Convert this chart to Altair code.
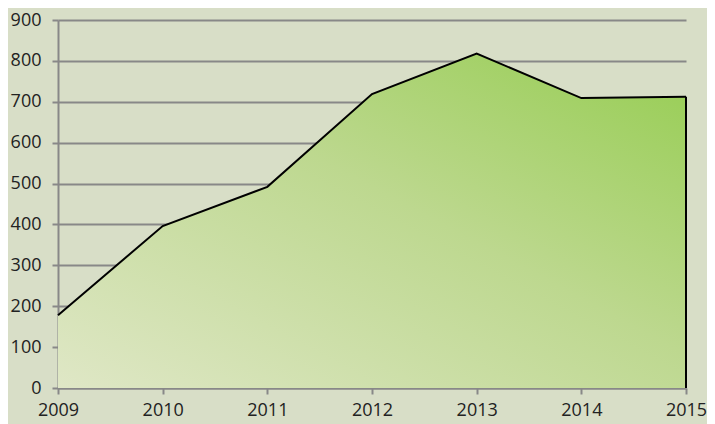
import altair as alt
import pandas as pd

years = [2009, 2010, 2011, 2012, 2013, 2014, 2015]
values = [178, 396, 492, 719, 818, 709, 712]
y_ticks = [0, 100, 200, 300, 400, 500, 600, 700, 800, 900]

df = pd.DataFrame({"year": years, "value": values})
last = df.tail(1).copy()
last["base"] = 0

FONT = "Open Sans"
GRID = "#888888"

x_enc = alt.X("year:Q", scale=alt.Scale(domain=[2009, 2015], nice=False, zero=False),
              axis=alt.Axis(values=years, format="d", title=None, grid=False,
                            tickSize=6, labelPadding=7, labelFlush=False,
                            labelOverlap=False))
y_enc = alt.Y("value:Q", scale=alt.Scale(domain=[0, 900], nice=False),
              axis=alt.Axis(values=y_ticks, title=None, grid=True, tickSize=6,
                            labelPadding=11))

fill = alt.Gradient(
    gradient="linear",
    x1=0, y1=1, x2=1, y2=0,
    stops=[alt.GradientStop(color="#dfe7c6", offset=0),
           alt.GradientStop(color="#bdd88f", offset=0.55),
           alt.GradientStop(color="#96cd52", offset=1)],
)

area = alt.Chart(df).mark_area(
    color=fill, opacity=1, line={"color": "black", "strokeWidth": 2}
).encode(x=x_enc, y=y_enc)

rule = alt.Chart(last).mark_rule(color="black", strokeWidth=2).encode(
    x="year:Q", y="base:Q", y2="value:Q"
)

chart = alt.layer(area, rule).properties(
    width=628, height=368,
    autosize=alt.AutoSizeParams(type="none"),
    padding={"left": 50, "top": 12, "right": 21, "bottom": 36},
    background="#d8dec7",
).configure_view(stroke=None).configure_axis(
    labelFont=FONT, labelFontSize=18, labelColor="#222222",
    domainColor=GRID, domainWidth=2, tickColor=GRID, tickWidth=2,
    gridColor=GRID, gridWidth=2,
)

chart.save("out.html", embed_options={"renderer": "svg", "actions": False})
